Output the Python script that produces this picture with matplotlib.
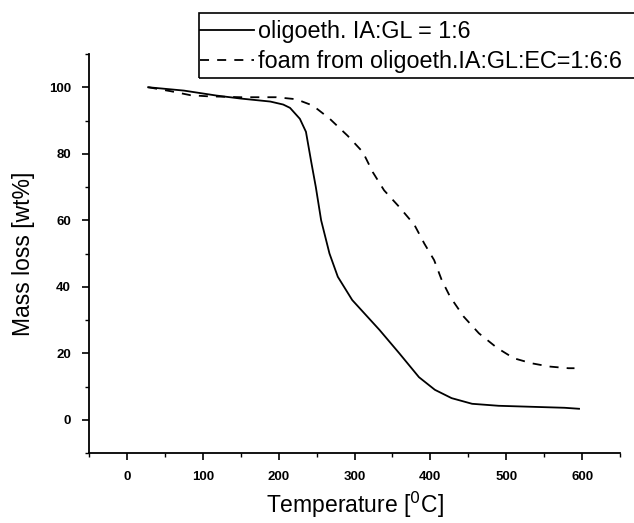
import matplotlib
matplotlib.use("Agg")
import matplotlib.pyplot as plt
from matplotlib.patches import Rectangle
from matplotlib.ticker import MultipleLocator

# oligoeth. IA:GL = 1:6
temp_oligo = [28, 75, 118, 150, 189, 206, 215, 228, 236, 243, 249, 256, 267, 278, 297,
              333, 359, 385, 406, 428, 455, 490, 533, 577, 596]
mass_oligo = [100, 99, 97.5, 96.6, 95.7, 94.8, 93.8, 90.5, 86.6, 77.5, 70, 60, 50, 43, 36,
              27, 20, 12.8, 9, 6.5, 4.8, 4.2, 3.9, 3.6, 3.3]

# foam from oligoeth. IA:GL:EC = 1:6:6
temp_foam = [28, 58, 84, 105, 150, 197, 223, 245, 267, 291, 311, 324, 339, 359, 379, 392,
             405, 415, 426, 444, 464, 488, 510, 533, 557, 582, 590]
mass_foam = [100, 98.8, 97.6, 97.3, 97, 97, 96.4, 94.5, 90.6, 85.4, 80.5, 74.5, 69, 64, 58.6, 53,
             48, 42, 37, 31, 26, 21.6, 18.5, 17, 16, 15.5, 15.5]

plt.rcParams['font.family'] = ['Liberation Sans', 'DejaVu Sans']

W, H = 634, 523
fig = plt.figure(figsize=(W / 100, H / 100), dpi=100)
ax = fig.add_axes([89 / W, 1 - 453 / H, 531 / W, 399 / H])

ax.plot(temp_oligo, mass_oligo, color='black', lw=1.3, label='oligoeth. IA:GL = 1:6')
ax.plot(temp_foam, mass_foam, color='black', lw=1.3, ls=(0, (5, 4.5)),
        label='foam from oligoeth.IA:GL:EC=1:6:6')

ax.set_xlim(-50, 650)
ax.set_ylim(-10, 110)
ax.xaxis.set_major_locator(MultipleLocator(100))
ax.xaxis.set_minor_locator(MultipleLocator(50))
ax.yaxis.set_major_locator(MultipleLocator(20))
ax.yaxis.set_minor_locator(MultipleLocator(10))

for s in ['top', 'right']:
    ax.spines[s].set_visible(False)
for s in ['left', 'bottom']:
    ax.spines[s].set_linewidth(1.3)

ax.tick_params(which='major', direction='out', length=5, width=1.2, labelsize=9.5, pad=8)
ax.tick_params(which='minor', direction='out', length=3, width=1.0)
for lab in ax.get_xticklabels() + ax.get_yticklabels():
    lab.set_fontweight('bold')

ax.set_xlabel('Temperature [$^{0}$C]', fontsize=16.5, labelpad=5)
ax.set_ylabel('Mass loss [wt%]', fontsize=16.5, labelpad=10)

# legend box runs past the right edge of the picture
fig.patches.append(Rectangle((199 / W, 1 - 78 / H), 460 / W, 65 / H,
                             transform=fig.transFigure, fill=False,
                             edgecolor='black', lw=1.2))
leg = fig.legend(loc='upper left', bbox_to_anchor=(200 / W, 1 - 20 / H),
                 fontsize=16.8, frameon=False, handlelength=2.3,
                 borderpad=0, labelspacing=0.3, handletextpad=0.2, borderaxespad=0)

fig.savefig('out.png', dpi=100)
